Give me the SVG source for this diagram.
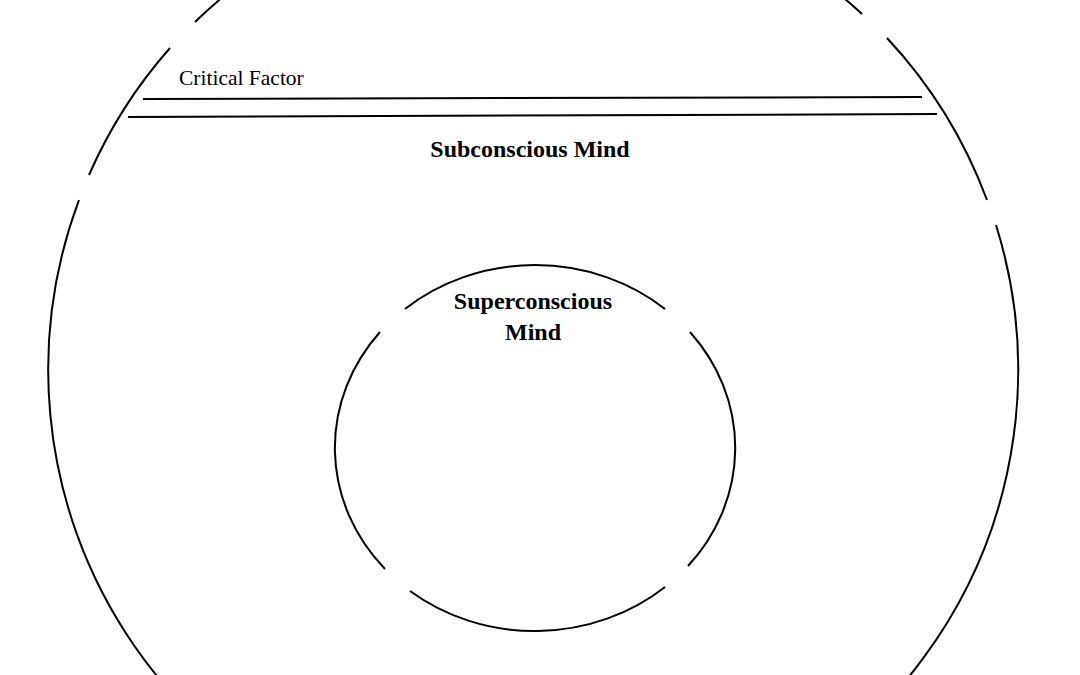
<svg xmlns="http://www.w3.org/2000/svg" width="1080" height="675" viewBox="0 0 1080 675">
<style>
.arc{fill:none;stroke:#000;stroke-width:2}
.ln{stroke:#000;stroke-width:2}
.t{font-family:"Liberation Serif",serif;fill:#000}
.b{font-weight:bold;font-size:24px;text-anchor:middle}
</style>
<rect width="1080" height="675" fill="#fff"/>
<g id="connectors">
<line class="ln" x1="143" y1="99" x2="922" y2="97"/>
<line class="ln" x1="128" y1="117" x2="937" y2="114"/>
</g>
<g id="subconscious">
<path class="arc" d="M533,-115 A485,485 0 0 0 195,22"/>
<path class="arc" d="M170,48 A485,485 0 0 0 89,175"/>
<path class="arc" d="M79,200 A485,485 0 0 0 533,855"/>
<path class="arc" d="M533,-115 A485,485 0 0 1 862,14"/>
<path class="arc" d="M887,38 A485,485 0 0 1 987,200"/>
<path class="arc" d="M996,225 A485,485 0 0 1 533,855"/>
<text class="t b" x="530" y="157">Subconscious Mind</text>
</g>
<g id="critical-factor">
<text class="t" x="179" y="85" font-size="21.5">Critical Factor</text>
</g>
<g id="superconscious">
<path class="arc" d="M405,309 A200,183 0 0 1 665,309"/>
<path class="arc" d="M690,332 A200,183 0 0 1 688,566"/>
<path class="arc" d="M665,587 A200,183 0 0 1 410,591"/>
<path class="arc" d="M385,569 A200,183 0 0 1 380,332"/>
<text class="t b" x="533" y="309">Superconscious</text>
<text class="t b" x="533" y="340">Mind</text>
</g>
</svg>
